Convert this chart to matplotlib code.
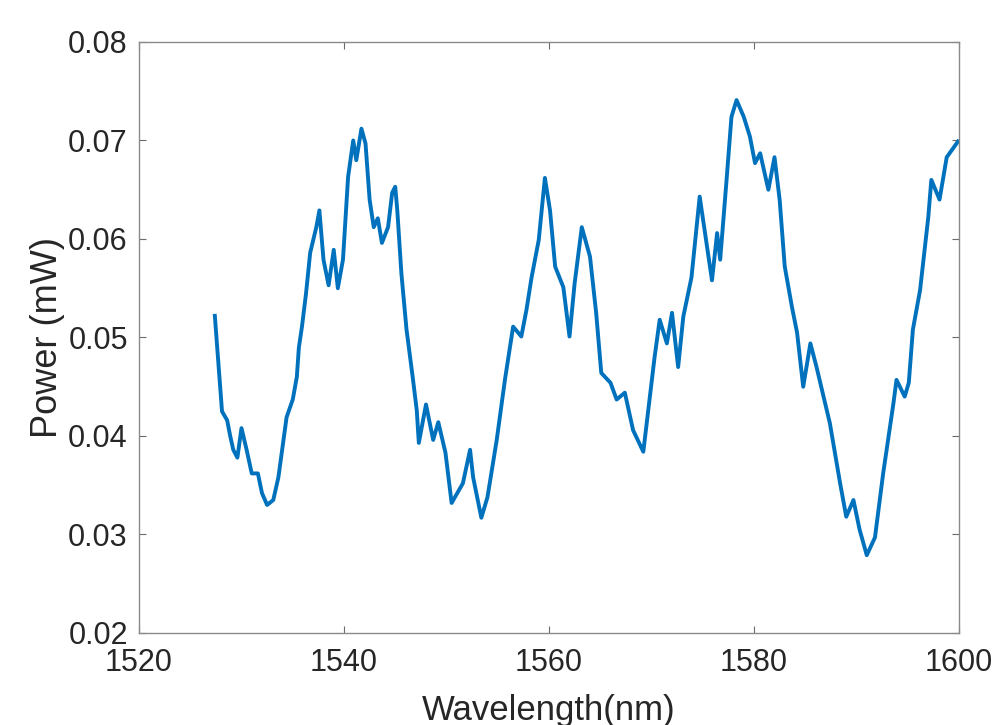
import matplotlib
matplotlib.use("Agg")
import matplotlib.pyplot as plt

plt.rcParams["font.family"] = ["Liberation Sans", "DejaVu Sans"]

# values
wavelength_nm = [
    1527.4, 1528.1, 1528.6, 1528.9, 1529.2, 1529.6, 1530.0, 1530.5, 1531.0, 1531.6,
    1532.0, 1532.5, 1533.1, 1533.6, 1534.4, 1535.0, 1535.4, 1535.6, 1535.9, 1536.3,
    1536.7, 1537.3, 1537.6, 1538.0, 1538.5, 1539.0, 1539.4, 1539.9, 1540.4, 1540.9,
    1541.2, 1541.7, 1542.1, 1542.5, 1542.9, 1543.3, 1543.7, 1544.3, 1544.7, 1545.0,
    1545.2, 1545.6, 1546.1, 1546.7, 1547.1, 1547.3, 1548.0, 1548.7, 1549.2, 1549.9,
    1550.5, 1551.6, 1552.3, 1552.6, 1553.4, 1554.0, 1554.9, 1555.7, 1556.5, 1557.3,
    1557.8, 1558.3, 1559.0, 1559.6, 1560.1, 1560.6, 1561.4, 1562.0, 1562.5, 1563.2,
    1564.0, 1564.6, 1565.1, 1566.0, 1566.6, 1567.4, 1568.2, 1569.2, 1570.3, 1570.8,
    1571.5, 1572.0, 1572.6, 1573.1, 1573.9, 1574.7, 1575.9, 1576.4, 1576.7, 1577.3,
    1577.8, 1578.3, 1579.0, 1579.6, 1580.1, 1580.6, 1581.4, 1582.0, 1582.5, 1583.0,
    1583.7, 1584.2, 1584.8, 1585.5, 1586.1, 1587.4, 1588.4, 1589.0, 1589.7, 1590.3,
    1591.0, 1591.8, 1592.6, 1593.6, 1593.9, 1594.7, 1595.1, 1595.5, 1596.2, 1597.0,
    1597.3, 1598.1, 1598.8, 1599.9,
]
power_mw = [
    0.0522, 0.0425, 0.0416, 0.0400, 0.0386, 0.0378, 0.0408, 0.0386, 0.0362, 0.0362,
    0.0342, 0.0330, 0.0335, 0.0358, 0.0419, 0.0437, 0.0460, 0.0490, 0.0511, 0.0545,
    0.0586, 0.0612, 0.0629, 0.0579, 0.0553, 0.0589, 0.0550, 0.0579, 0.0663, 0.0700,
    0.0680, 0.0712, 0.0697, 0.0640, 0.0612, 0.0621, 0.0596, 0.0612, 0.0647, 0.0653,
    0.0629, 0.0565, 0.0508, 0.0460, 0.0426, 0.0393, 0.0432, 0.0396, 0.0414, 0.0383,
    0.0332, 0.0352, 0.0386, 0.0358, 0.0317, 0.0338, 0.0396, 0.0457, 0.0511, 0.0501,
    0.0528, 0.0561, 0.0599, 0.0662, 0.0629, 0.0572, 0.0551, 0.0501, 0.0555, 0.0612,
    0.0582, 0.0525, 0.0464, 0.0454, 0.0437, 0.0444, 0.0406, 0.0384, 0.0480, 0.0518,
    0.0494, 0.0525, 0.0470, 0.0521, 0.0561, 0.0643, 0.0558, 0.0606, 0.0579, 0.0657,
    0.0724, 0.0741, 0.0724, 0.0704, 0.0677, 0.0687, 0.0650, 0.0683, 0.0640, 0.0572,
    0.0531, 0.0505, 0.0450, 0.0494, 0.0470, 0.0413, 0.0352, 0.0318, 0.0335, 0.0305,
    0.0279, 0.0297, 0.0362, 0.0433, 0.0457, 0.0440, 0.0454, 0.0508, 0.0548, 0.0622,
    0.0660, 0.0640, 0.0683, 0.0699,
]
x_ticks = [1520, 1540, 1560, 1580, 1600]
y_ticks = [0.02, 0.03, 0.04, 0.05, 0.06, 0.07, 0.08]

fig = plt.figure(figsize=(9.97, 7.25), dpi=100)
ax = fig.add_axes([0.1394, 0.1269, 0.8225, 0.8152])

ax.plot(wavelength_nm, power_mw, color="#0072BD", lw=2.8)

ax.set_xlim(1520, 1600)
ax.set_ylim(0.02, 0.08)
ax.set_xticks(x_ticks)
ax.set_yticks(y_ticks)
ax.set_yticklabels([f"{v:.2f}" for v in y_ticks])

ax.tick_params(direction="in", top=True, right=True, length=5, width=0.8,
               labelsize=22, colors="#6b6b6b", labelcolor="#262626")
ax.tick_params(axis="x", pad=11)
ax.tick_params(axis="y", pad=8)
for s in ax.spines.values():
    s.set_color("#8a8a8a")
    s.set_linewidth(1.0)

ax.set_xlabel("Wavelength(nm)", fontsize=25, color="#262626", labelpad=11)
ax.set_ylabel("Power (mW)", fontsize=26, color="#262626", labelpad=2)

fig.savefig("out.png", dpi=100)
